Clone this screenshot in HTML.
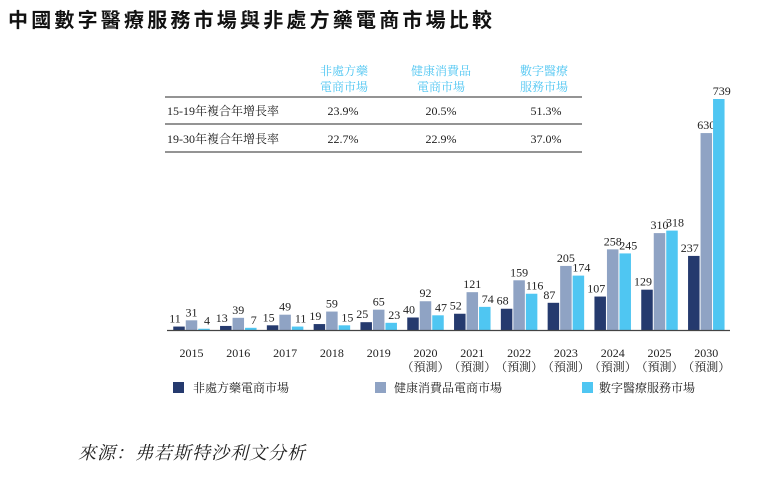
<!DOCTYPE html>
<html><head><meta charset="utf-8"><style>
body{margin:0;background:#fff;width:782px;height:485px;overflow:hidden;font-family:"Liberation Serif","Noto Serif CJK SC",serif;}
</style></head><body>
<svg width="782" height="485" xmlns="http://www.w3.org/2000/svg">
<text x="8" y="27" font-size="20" letter-spacing="3.2" font-weight="bold" font-family="'Liberation Sans','Noto Sans CJK TC',sans-serif" fill="#111">中國數字醫療服務市場與非處方藥電商市場比較</text>
<g font-size="12" fill="#222">
<g fill="#4fc6f2" text-anchor="middle">
<text x="344" y="75">非處方藥</text><text x="344" y="91">電商市場</text>
<text x="441" y="75">健康消費品</text><text x="441" y="91">電商市場</text>
<text x="544" y="75">數字醫療</text><text x="544" y="91">服務市場</text>
</g>
<line x1="165" y1="97" x2="582" y2="97" stroke="#555" stroke-width="1.2"/>
<line x1="165" y1="124" x2="582" y2="124" stroke="#555" stroke-width="1.2"/>
<line x1="165" y1="152" x2="582" y2="152" stroke="#555" stroke-width="1.2"/>
<text x="167" y="115">15-19年複合年增長率</text>
<text x="167" y="143">19-30年複合年增長率</text>
<g text-anchor="middle">
<text x="343" y="115">23.9%</text><text x="441" y="115">20.5%</text><text x="546" y="115">51.3%</text>
<text x="343" y="143">22.7%</text><text x="441" y="143">22.9%</text><text x="546" y="143">37.0%</text>
</g></g>
<g id="bars"></g>
<line x1="167" y1="330.5" x2="730" y2="330.5" stroke="#444" stroke-width="1.2"/>
<g font-size="12" fill="#222">
<rect x="173" y="382" width="11" height="11" fill="#253a6e"/><text x="193" y="392">非處方藥電商市場</text>
<rect x="375" y="382" width="11" height="11" fill="#8fa3c4"/><text x="394" y="392">健康消費品電商市場</text>
<rect x="582" y="382" width="11" height="11" fill="#4fc6f2"/><text x="599" y="392">數字醫療服務市場</text>
</g>
<text x="78" y="459" font-size="18" letter-spacing="1" font-style="italic" fill="#222">來源：弗若斯特沙利文分析</text>
</svg>
<script>
const categories=["2015","2016","2017","2018","2019","2020","2021","2022","2023","2024","2025","2030"];
const forecast=[false,false,false,false,false,true,true,true,true,true,true,true];
const otcValues=[11,13,15,19,25,40,52,68,87,107,129,237];
const healthValues=[31,39,49,59,65,92,121,159,205,258,310,630];
const digitalValues=[4,7,11,15,23,47,74,116,174,245,318,739];
const series=[otcValues,healthValues,digitalValues];
const colors=["#253a6e","#8fa3c4","#4fc6f2"];
const names=["otc","health","digital"];
const base=330, scale=231/739, x0=191.5, step=46.8, bw=11.5;
const xc=i=>x0+i*step;
const yv=v=>base-v*scale;
const g=document.getElementById('bars');
const NS="http://www.w3.org/2000/svg";
categories.forEach((c,i)=>{
  series.forEach((s,k)=>{
    const x=xc(i)+(k-1)*12.5-bw/2;
    const r=document.createElementNS(NS,'rect');
    
    
    r.setAttribute('x',x);r.setAttribute('y',yv(s[i]));
    r.setAttribute('width',bw);r.setAttribute('height',s[i]*scale);
    r.setAttribute('fill',colors[k]);g.appendChild(r);
    const t=document.createElementNS(NS,'text');
    
    
    t.setAttribute('x',x+bw/2+(k==0?-4:(k==2?3:0)));t.setAttribute('y',yv(s[i])-4);
    t.setAttribute('text-anchor','middle');t.setAttribute('font-size','12');t.setAttribute('fill','#222');
    t.textContent=s[i];g.appendChild(t);
  });
  const t=document.createElementNS(NS,'text');
  
  
  t.setAttribute('x',xc(i));t.setAttribute('y',357);t.setAttribute('text-anchor','middle');
  t.setAttribute('font-size','12');t.setAttribute('fill','#222');t.textContent=c;g.appendChild(t);
  if(forecast[i]){
    const f=document.createElementNS(NS,'text');
    
    
    f.setAttribute('x',xc(i));f.setAttribute('y',371);f.setAttribute('text-anchor','middle');
    f.setAttribute('font-size','12');f.setAttribute('fill','#222');f.textContent='（預測）';g.appendChild(f);
  }
});
</script>
</body></html>
